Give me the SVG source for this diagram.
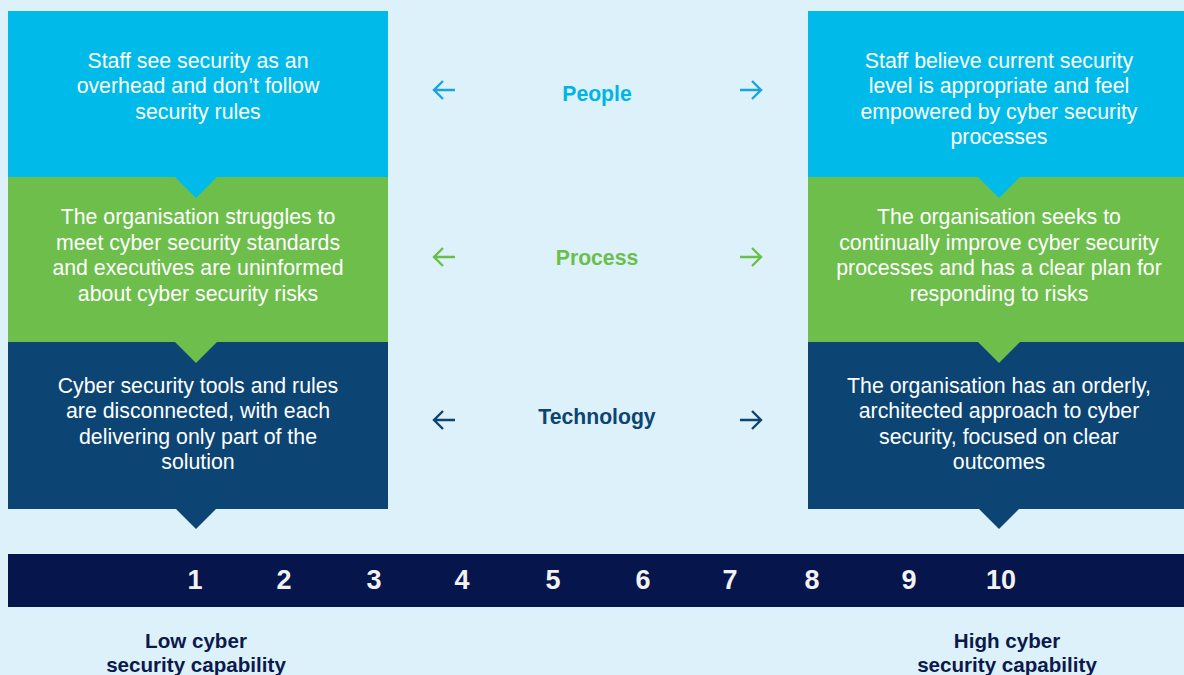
<svg xmlns="http://www.w3.org/2000/svg" width="1184" height="675" viewBox="0 0 1184 675">
<style>
.bt{font-family:"Liberation Sans",Arial,sans-serif;font-size:21.3px;fill:#ffffff;text-anchor:middle}
.lbl{font-family:"Liberation Sans",Arial,sans-serif;font-size:21.2px;font-weight:bold;text-anchor:middle}
.num{font-family:"Liberation Sans",Arial,sans-serif;font-size:27px;font-weight:bold;fill:#f2f2f2;text-anchor:middle}
.cap{font-family:"Liberation Sans",Arial,sans-serif;font-size:20.6px;font-weight:bold;fill:#0b1a4d;text-anchor:middle}
.arr{fill:none;stroke-width:2.4;stroke-linecap:butt;stroke-linejoin:miter}
.cy{fill:#00bbe9}.gr{fill:#6dbe4b}.db{fill:#0c4574}
</style>
<rect x="0" y="0" width="1184" height="675" fill="#ddf1fa"/>

<g id="left-people">
<rect class="cy" x="8" y="11" width="380" height="167"/>
</g>
<g id="left-process">
<rect class="gr" x="8" y="177" width="380" height="166"/>
<polygon class="cy" points="175,177 217,177 196,198"/>
</g>
<g id="left-technology">
<rect class="db" x="8" y="342" width="380" height="167"/>
<polygon class="gr" points="175,342 217,342 196,363"/>
<polygon class="db" points="175,508 217,508 196,529"/>
</g>
<g id="left-texts">
<text class="bt" x="198" y="68">Staff see security as an</text>
<text class="bt" x="198" y="93">overhead and don’t follow</text>
<text class="bt" x="198" y="119">security rules</text>
<text class="bt" x="198" y="224">The organisation struggles to</text>
<text class="bt" x="198" y="250">meet cyber security standards</text>
<text class="bt" x="198" y="275">and executives are uninformed</text>
<text class="bt" x="198" y="301">about cyber security risks</text>
<text class="bt" x="198" y="393">Cyber security tools and rules</text>
<text class="bt" x="198" y="418">are disconnected, with each</text>
<text class="bt" x="198" y="444">delivering only part of the</text>
<text class="bt" x="198" y="469">solution</text>
</g>

<g id="right-people">
<rect class="cy" x="808" y="11" width="382" height="167"/>
</g>
<g id="right-process">
<rect class="gr" x="808" y="177" width="382" height="166"/>
<polygon class="cy" points="978,177 1020,177 999,198"/>
</g>
<g id="right-technology">
<rect class="db" x="808" y="342" width="382" height="167"/>
<polygon class="gr" points="978,342 1020,342 999,363"/>
<polygon class="db" points="978,508 1020,508 999,529"/>
</g>
<g id="right-texts">
<text class="bt" x="999" y="68">Staff believe current security</text>
<text class="bt" x="999" y="93">level is appropriate and feel</text>
<text class="bt" x="999" y="119">empowered by cyber security</text>
<text class="bt" x="999" y="144">processes</text>
<text class="bt" x="999" y="224">The organisation seeks to</text>
<text class="bt" x="999" y="250">continually improve cyber security</text>
<text class="bt" x="999" y="275">processes and has a clear plan for</text>
<text class="bt" x="999" y="301">responding to risks</text>
<text class="bt" x="999" y="393">The organisation has an orderly,</text>
<text class="bt" x="999" y="418">architected approach to cyber</text>
<text class="bt" x="999" y="444">security, focused on clear</text>
<text class="bt" x="999" y="469">outcomes</text>
</g>

<g id="labels">
<text class="lbl" x="597" y="101" fill="#00b5e5">People</text>
<text class="lbl" x="597" y="265" fill="#6abf4b">Process</text>
<text class="lbl" x="597" y="424" fill="#0c4472">Technology</text>
</g>

<g id="connectors">
<path class="arr" stroke="#1aa3de" d="M455 90 H434 M443 81 L434 90 L443 99"/>
<path class="arr" stroke="#1aa3de" d="M740 90 H761 M752 81 L761 90 L752 99"/>
<path class="arr" stroke="#6abf4b" d="M455 257 H434 M443 248 L434 257 L443 266"/>
<path class="arr" stroke="#6abf4b" d="M740 257 H761 M752 248 L761 257 L752 266"/>
<path class="arr" stroke="#0c4472" d="M455 420 H434 M443 411 L434 420 L443 429"/>
<path class="arr" stroke="#0c4472" d="M740 420 H761 M752 411 L761 420 L752 429"/>
</g>

<g id="scale">
<rect x="8" y="554" width="1176" height="53" fill="#06154c"/>
<text class="num" x="195" y="589">1</text>
<text class="num" x="284" y="589">2</text>
<text class="num" x="374" y="589">3</text>
<text class="num" x="462" y="589">4</text>
<text class="num" x="553" y="589">5</text>
<text class="num" x="643" y="589">6</text>
<text class="num" x="730" y="589">7</text>
<text class="num" x="812" y="589">8</text>
<text class="num" x="909" y="589">9</text>
<text class="num" x="1001" y="589">10</text>
</g>

<g id="captions">
<text class="cap" x="196" y="648">Low cyber</text>
<text class="cap" x="196" y="672">security capability</text>
<text class="cap" x="1007" y="648">High cyber</text>
<text class="cap" x="1007" y="672">security capability</text>
</g>
</svg>
